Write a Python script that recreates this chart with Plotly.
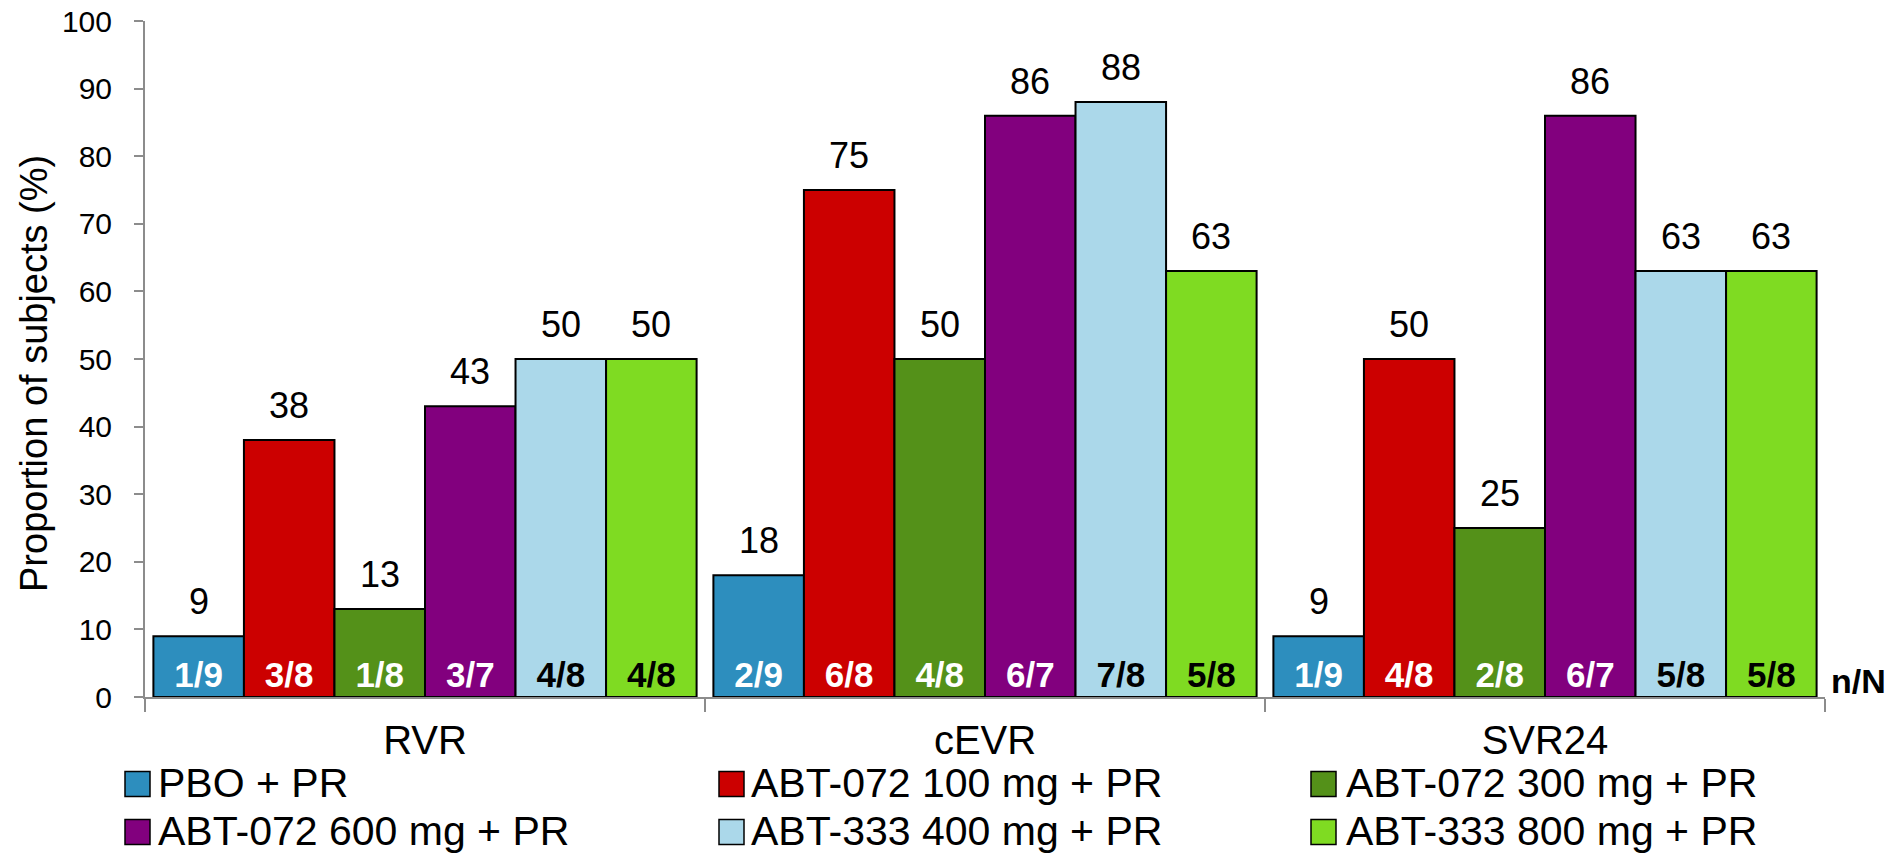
import plotly.graph_objects as go

# Endpoints on the category axis
endpoints = ["RVR", "cEVR", "SVR24"]

# Treatment arms (legend order)
arms = [
    "PBO + PR",
    "ABT-072 100 mg + PR",
    "ABT-072 300 mg + PR",
    "ABT-072 600 mg + PR",
    "ABT-333 400 mg + PR",
    "ABT-333 800 mg + PR",
]

# Proportion of subjects (%) per arm, ordered RVR, cEVR, SVR24
pbo_pct = [9, 18, 9]
abt072_100_pct = [38, 75, 50]
abt072_300_pct = [13, 50, 25]
abt072_600_pct = [43, 86, 86]
abt333_400_pct = [50, 88, 63]
abt333_800_pct = [50, 63, 63]

# Responders / subjects per arm, ordered RVR, cEVR, SVR24
pbo_nN = ["1/9", "2/9", "1/9"]
abt072_100_nN = ["3/8", "6/8", "4/8"]
abt072_300_nN = ["1/8", "4/8", "2/8"]
abt072_600_nN = ["3/7", "6/7", "6/7"]
abt333_400_nN = ["4/8", "7/8", "5/8"]
abt333_800_nN = ["4/8", "5/8", "5/8"]

pct_by_arm = [pbo_pct, abt072_100_pct, abt072_300_pct,
              abt072_600_pct, abt333_400_pct, abt333_800_pct]
nN_by_arm = [pbo_nN, abt072_100_nN, abt072_300_nN,
             abt072_600_nN, abt333_400_nN, abt333_800_nN]

colors = ["#2D8EBE", "#CC0000", "#549119", "#82007E", "#ABD8EA", "#7FDB22"]
count_text_colors = ["white", "white", "white", "white", "black", "black"]

FONT = "Liberation Sans, Arial, sans-serif"
W, H = 1893, 857
ML, MR, MT, MB = 145, 68, 21, 160
PW, PH = W - ML - MR, H - MT - MB
BARGAP = 0.03


def px_to_paper_x(px):
    return (px - ML) / PW


def px_to_paper_y(py):
    return (H - MB - py) / PH


fig = go.Figure()

for arm, pct, nN, col, tcol in zip(arms, pct_by_arm, nN_by_arm,
                                    colors, count_text_colors):
    fig.add_trace(go.Bar(
        name=arm,
        x=endpoints,
        y=pct,
        text=nN,
        textposition="inside",
        insidetextanchor="start",
        textangle=0,
        insidetextfont=dict(family=FONT, size=35, color=tcol, weight="bold"),
        marker=dict(color=col, line=dict(color="black", width=2)),
        showlegend=False,
        hoverinfo="skip",
    ))

annotations = []

# Percentage labels above each bar
n_arms = len(arms)
slot = (1 - BARGAP) / n_arms
for ai, pct in enumerate(pct_by_arm):
    for ci, v in enumerate(pct):
        xpos = ci - (1 - BARGAP) / 2 + (ai + 0.5) * slot
        annotations.append(dict(
            x=xpos, y=v, xref="x", yref="y",
            text=str(v), showarrow=False,
            xanchor="center", yanchor="bottom", yshift=12,
            font=dict(family=FONT, size=36, color="black"),
        ))

# n/N marker at the right of the count row
annotations.append(dict(
    x=1, y=2.4, xref="paper", yref="y",
    text="n/N", showarrow=False, xanchor="left", yanchor="middle",
    xshift=4, font=dict(family=FONT, size=34, color="black", weight="bold"),
))

# Y-axis title, rotated
annotations.append(dict(
    x=px_to_paper_x(34), y=px_to_paper_y(374),
    xref="paper", yref="paper", text="Proportion of subjects (%)",
    showarrow=False, textangle=-90, xanchor="center", yanchor="middle",
    font=dict(family=FONT, size=38, color="black"),
))

# Legend: three columns, two rows
shapes = []
col_marker_left = [125, 719, 1311]
col_text_left = [157, 750, 1345]
row_center = [784, 832]
MARK = 25
for i, (arm, col) in enumerate(zip(arms, colors)):
    r, c = divmod(i, 3)
    x0 = col_marker_left[c]
    yc = row_center[r]
    shapes.append(dict(
        type="rect", xref="paper", yref="paper",
        x0=px_to_paper_x(x0), x1=px_to_paper_x(x0 + MARK),
        y0=px_to_paper_y(yc + MARK / 2), y1=px_to_paper_y(yc - MARK / 2),
        fillcolor=col, line=dict(color="black", width=1.5),
    ))
    annotations.append(dict(
        x=px_to_paper_x(col_text_left[c]), y=px_to_paper_y(yc - 1),
        xref="paper", yref="paper", text=arm, showarrow=False,
        xanchor="left", yanchor="middle", borderpad=0,
        font=dict(family=FONT, size=41, color="black"),
    ))

fig.update_layout(
    width=W, height=H,
    margin=dict(l=ML, r=MR, t=MT, b=MB, autoexpand=False),
    barmode="group",
    bargap=BARGAP,
    bargroupgap=0,
    plot_bgcolor="white",
    paper_bgcolor="white",
    font=dict(family=FONT, color="black"),
    annotations=annotations,
    shapes=shapes,
    xaxis=dict(
        type="category",
        showline=True, linecolor="#8C8C8C", linewidth=2,
        ticks="outside", tickson="boundaries", ticklen=13,
        tickcolor="#8C8C8C", tickwidth=2,
        ticklabelstandoff=7,
        tickfont=dict(family=FONT, size=40, color="black"),
        showgrid=False, zeroline=False, automargin=False,
    ),
    yaxis=dict(
        range=[0, 100], dtick=10,
        showline=True, linecolor="#8C8C8C", linewidth=2,
        ticks="outside", ticklen=9, tickcolor="#8C8C8C", tickwidth=2,
        ticklabelstandoff=16,
        tickfont=dict(family=FONT, size=30, color="black"),
        showgrid=False, zeroline=False, automargin=False,
    ),
)

fig.write_html("out.html")
